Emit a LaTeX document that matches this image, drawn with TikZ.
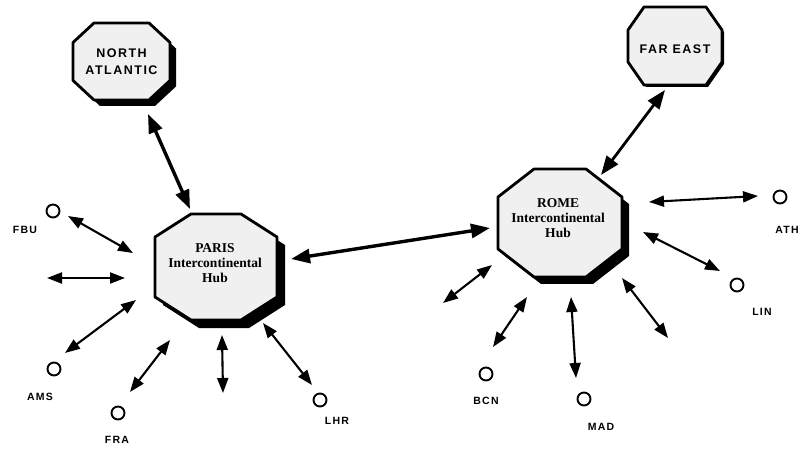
\documentclass[tikz,border=0pt]{standalone}
\usepackage{fontspec}
\setmainfont{Liberation Serif}
\newfontfamily\lblfont[LetterSpace=12]{Liberation Sans}
\usetikzlibrary{arrows.meta,calc}
\tikzset{
  arr/.style={line width=2.1pt, {Triangle[length=15pt,width=11pt]}-{Triangle[length=15pt,width=11pt]}},
  bigarr/.style={line width=3.4pt, {Triangle[length=19pt,width=14pt]}-{Triangle[length=19pt,width=14pt]}},
  city/.style={draw, line width=1.9pt, circle, minimum size=13pt, inner sep=0pt},
  lbl/.style={font=\lblfont\bfseries\fontsize{10.5}{12}\selectfont, inner sep=0pt},
  hubtxt/.style={font=\bfseries\fontsize{13.5}{15}\selectfont, align=center, inner sep=0pt},
  regtxt/.style={font=\lblfont\bfseries\fontsize{12.5}{16.5}\selectfont, align=center, inner sep=0pt},
  octfill/.style={fill=gray!12, draw=black, line width=2.8pt, line join=round},
}
% octagon path: x y hw hh cx cy
\newcommand{\octpath}[6]{({#1-#3+#5},{#2-#4}) -- ({#1+#3-#5},{#2-#4}) -- ({#1+#3},{#2-#4+#6}) -- ({#1+#3},{#2+#4-#6}) -- ({#1+#3-#5},{#2+#4}) -- ({#1-#3+#5},{#2+#4}) -- ({#1-#3},{#2+#4-#6}) -- ({#1-#3},{#2-#4+#6}) -- cycle}
% name x y hw hh cx cy shadow
\newcommand{\octnode}[8]{%
  \fill[black] \octpath{#2+#8}{#3+#8}{#4}{#5}{#6}{#7};
  \path[octfill] \octpath{#2}{#3}{#4}{#5}{#6}{#7};
  \node[inner sep=0pt, minimum width={2*#4pt}, minimum height={2*#5pt}] (#1) at (#2,#3) {};
}
\begin{document}
\begin{tikzpicture}[x=1pt,y=-1pt]
\useasboundingbox (0,0) rectangle (803,454);

% octagons
\octnode{na}{121.5}{61.5}{48.5}{38.5}{21}{19.5}{6}
\octnode{fe}{675}{46}{47}{39}{16}{23}{2}
\octnode{paris}{216}{267}{61}{53}{36}{23}{8}
\octnode{rome}{560}{223}{62}{54}{36}{28}{7}

\node[regtxt] (natxt) at (121.5,61.5) {NORTH\\ATLANTIC};
\node[regtxt] (fetxt) at (675,49) {FAR EAST};
\node[hubtxt] (paristxt) at (215,263) {PARIS\\Intercontinental\\Hub};
\node[hubtxt] (rometxt) at (558,218) {ROME\\Intercontinental\\Hub};

% cities
\node[city] (fbu) at (53,211) {};
\node[city] (ams) at (54,369) {};
\node[city] (fra) at (118,413) {};
\node[city] (lhr) at (320,400) {};
\node[city] (bcn) at (486,374) {};
\node[city] (mad) at (584,399) {};
\node[city] (lin) at (737,285) {};
\node[city] (ath) at (780,197) {};

\node[lbl] (fbul) at (25,230) {FBU};
\node[lbl] (amsl) at (40,397) {AMS};
\node[lbl] (fral) at (117,440) {FRA};
\node[lbl] (lhrl) at (337,421) {LHR};
\node[lbl] (bcnl) at (486,401) {BCN};
\node[lbl] (madl) at (601,427) {MAD};
\node[lbl] (linl) at (762,312) {LIN};
\node[lbl] (athl) at (787,230) {ATH};

% arrow end points
\coordinate (a1) at (148,114); \coordinate (b1) at (190,209);
\coordinate (a2) at (291,259); \coordinate (b2) at (490,228);
\coordinate (a3) at (665,90);  \coordinate (b3) at (601,175);
\coordinate (a4) at (133,253); \coordinate (b4) at (68,216);
\coordinate (a5) at (125,278); \coordinate (b5) at (47,278);
\coordinate (a6) at (136,300); \coordinate (b6) at (65,353);
\coordinate (a7) at (170,340); \coordinate (b7) at (130,392);
\coordinate (a8) at (222,335); \coordinate (b8) at (223,393);
\coordinate (a9) at (263,323); \coordinate (b9) at (312,385);
\coordinate (a10) at (492,265); \coordinate (b10) at (443,303);
\coordinate (a11) at (527,297); \coordinate (b11) at (493,347);
\coordinate (a12) at (571,297); \coordinate (b12) at (576,378);
\coordinate (a13) at (622,278); \coordinate (b13) at (668,338);
\coordinate (a14) at (643,232); \coordinate (b14) at (720,271);
\coordinate (a15) at (649,202); \coordinate (b15) at (758,196);

\draw[bigarr] (a1) -- (b1);
\draw[bigarr] (a2) -- (b2);
\draw[bigarr, line width=2.8pt] (a3) -- (b3);
\foreach \i in {4,...,15} { \draw[arr] (a\i) -- (b\i); }
\end{tikzpicture}
\end{document}
